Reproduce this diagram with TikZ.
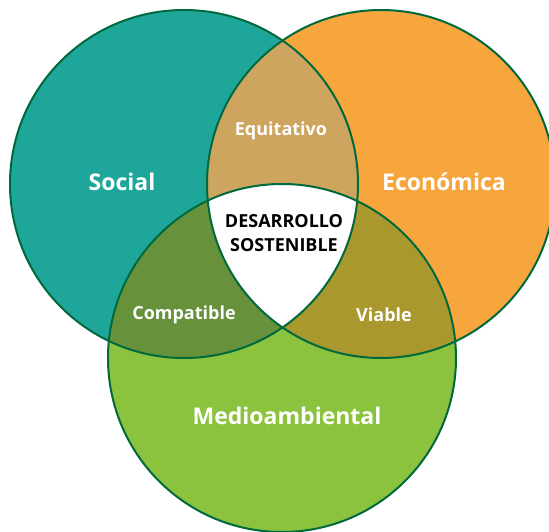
\documentclass[tikz,border=0pt]{standalone}
\usepackage{fontspec}
\setmainfont{Open Sans}
\usepackage{tikz}
\usetikzlibrary{positioning}

\definecolor{socialc}{RGB}{31,166,154}
\definecolor{econc}{RGB}{247,166,62}
\definecolor{medioc}{RGB}{139,195,63}
\definecolor{equic}{RGB}{205,165,95}
\definecolor{compc}{RGB}{104,145,60}
\definecolor{viac}{RGB}{168,152,46}
\definecolor{rimc}{RGB}{0,105,60}

\begin{document}
\begin{tikzpicture}[x=1pt, y=-1pt,
    rim/.style={draw=rimc, line width=2pt},
    big/.style={text=white, font=\bfseries\fontsize{23}{23}\selectfont},
    small/.style={text=white, font=\bfseries\fontsize{18}{18}\selectfont},
    core/.style={text=black, align=center, font=\bfseries\fontsize{18}{24}\selectfont}]
    \useasboundingbox (0,0) rectangle (549,531);
    \begin{scope}
    \clip (0,0) rectangle (549,531);

    \coordinate (soc) at (184,184);
    \coordinate (eco) at (381,184);
    \coordinate (med) at (282,358);
    \def\rad{174}

    % the three circles
    \fill[socialc] (soc) circle (\rad);
    \fill[econc] (eco) circle (\rad);
    \fill[medioc] (med) circle (\rad);

    % overlaps
    \begin{scope}
        \clip (soc) circle (\rad);
        \fill[equic] (eco) circle (\rad);
        \fill[compc] (med) circle (\rad);
    \end{scope}
    \begin{scope}
        \clip (eco) circle (\rad);
        \fill[viac] (med) circle (\rad);
    \end{scope}
    \begin{scope}
        \clip (soc) circle (\rad);
        \clip (eco) circle (\rad);
        \fill[white] (med) circle (\rad);
    \end{scope}

    \draw[rim] (soc) circle (\rad);
    \draw[rim] (eco) circle (\rad);
    \draw[rim] (med) circle (\rad);
    \end{scope}

    \node[big] (social) at (122,182) {Social};
    \node[big] (economica) at (444,182) {Económica};
    \node[big] (medio) at (287,416) {Medioambiental};
    \node[small] (equitativo) at (281,131) {Equitativo};
    \node[small] (compatible) at (184,315) {Compatible};
    \node[small] (viable) at (384,315) {Viable};
    \node[core] (desarrollo) at (284,233) {DESARROLLO\\SOSTENIBLE};
\end{tikzpicture}
\end{document}
